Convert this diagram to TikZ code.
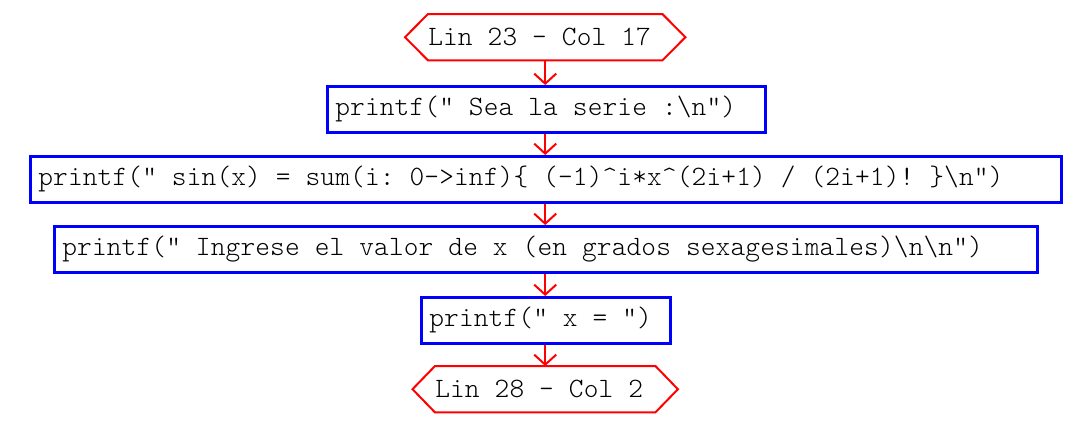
\documentclass[tikz,border=0pt]{standalone}
\usepackage{fontspec}
\newfontfamily\codefont{lmmonolt10-regular.otf}
\newcommand{\codesize}{\codefont\fontsize{28}{30}\selectfont}
\newlength{\cellw}
\setlength{\cellw}{14.85pt}
\def\monoend{\monoend}
\def\mono#1{\monoloop#1\monoend}
\def\monoloop#1{\ifx#1\monoend\else\makebox[\cellw][c]{#1}\expandafter\monoloop\fi}
\usetikzlibrary{arrows.meta,calc}
\tikzset{
  procbox/.style={draw=blue, line width=2.5pt, rectangle, anchor=north west,
    inner xsep=8pt, inner ysep=0pt, minimum height=46pt, align=left,
    font=\codesize},
  termtext/.style={draw=none, rectangle, anchor=north west, inner xsep=0pt,
    inner ysep=0pt, minimum height=46pt, align=left,
    font=\codesize},
  termline/.style={draw=red, line width=2pt, line join=miter},
  flow/.style={draw=red, line width=2pt, -{Straight Barb[length=10pt,width=22pt,line width=2pt]}}
}
\newcommand{\hexof}[2]{%
  \draw[termline] (#1.north west) -- (#1.north east) -- ($(#1.east)+(#2,0)$)
    -- (#1.south east) -- (#1.south west) -- ($(#1.west)+(-#2,0)$) -- cycle;}
\begin{document}
\begin{tikzpicture}[x=1pt,y=-1pt]
\useasboundingbox[fill=white] (0,0) rectangle (1089,432);
\node[termtext, text width=234pt] (s) at (428,14) {\mono{Lin~23~-~Col~17}};
\hexof{s}{23}
\node[procbox, text width=422pt] (b1) at (326,85) {\mono{printf("~Sea~la~serie~:\textbackslash n")}};
\node[procbox, text width=1015pt] (b2) at (29,155) {\mono{printf("~sin(x)~=~sum(i:~0->inf)\{~(-1)\textasciicircum i*x\textasciicircum (2i+1)~/~(2i+1)!~\}\textbackslash n")}};
\node[procbox, text width=967pt] (b3) at (53,225) {\mono{printf("~Ingrese~el~valor~de~x~(en~grados~sexagesimales)\textbackslash n\textbackslash n")}};
\node[procbox, text width=233pt] (b4) at (420,296) {\mono{printf("~x~=~")}};
\node[termtext, text width=220pt] (e) at (435,366) {\mono{Lin~28~-~Col~2}};
\hexof{e}{22.5}
\draw[flow] (s.south) -- (s.south |- b1.north);
\draw[flow] (s.south |- b1.south) -- (s.south |- b2.north);
\draw[flow] (s.south |- b2.south) -- (s.south |- b3.north);
\draw[flow] (s.south |- b3.south) -- (s.south |- b4.north);
\draw[flow] (s.south |- b4.south) -- (s.south |- e.north);
\end{tikzpicture}
\end{document}
